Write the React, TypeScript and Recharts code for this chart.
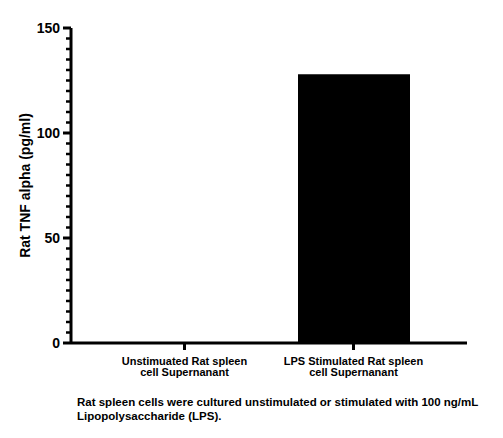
import React from "react";
import { BarChart, Bar, XAxis, YAxis, Label } from "recharts";

const categoryLines: string[][] = [
  ["Unstimuated Rat spleen", "cell Supernanant"],
  ["LPS Stimulated Rat spleen", "cell Supernanant"],
];
const categories = ["Unstimulated", "LPS"];
const values = [0, 128];
const yTicks = [0, 5, 10, 15, 20, 25, 30, 35, 40, 45, 50, 55, 60, 65, 70, 75, 80, 85, 90, 95, 100, 105, 110, 115, 120, 125, 130, 135, 140, 145, 150];
const majorTicks = [0, 50, 100, 150];
const yLabel = "Rat TNF alpha  (pg/ml)";
const footnote = [
  "Rat spleen cells were cultured unstimulated or stimulated with 100 ng/mL",
  "Lipopolysaccharide (LPS).",
];

const data = categories.map((c, i) => ({ name: c, idx: i, value: values[i] }));

const FONT = "'Liberation Sans', Arial, sans-serif";

const YTick = (props: any) => {
  const { x, y, payload } = props;
  const major = majorTicks.includes(payload.value);
  return (
    <g>
      <line
        x1={x - (major ? 8 : 5)}
        x2={x}
        y1={y}
        y2={y}
        stroke="#000"
        strokeWidth={major ? 3 : 2.5}
      />
      {major && (
        <text
          x={x - 11}
          y={y}
          dy={5}
          textAnchor="end"
          fontFamily={FONT}
          fontWeight="bold"
          fontSize={14}
          fill="#000"
        >
          {payload.value}
        </text>
      )}
    </g>
  );
};

const XTick = (props: any) => {
  const { x, y, index } = props;
  const lines = categoryLines[index] || [];
  return (
    <g>
      <line x1={x} x2={x} y1={y} y2={y + 7} stroke="#000" strokeWidth={3} />
      <text
        x={x}
        y={y}
        textAnchor="middle"
        fontFamily={FONT}
        fontWeight="bold"
        fontSize={11}
        fill="#000"
      >
        {lines.map((l, i) => (
          <tspan key={i} x={x} dy={i === 0 ? 22 : 11}>
            {l}
          </tspan>
        ))}
      </text>
    </g>
  );
};

const YLabelContent = (props: any) => {
  const { viewBox } = props;
  const cx = 25;
  const cy = viewBox.y + viewBox.height / 2;
  return (
    <text
      x={cx}
      y={cy}
      transform={`rotate(-90, ${cx}, ${cy})`}
      textAnchor="middle"
      dominantBaseline="central"
      fontFamily={FONT}
      fontWeight="bold"
      fontSize={14}
      fill="#000"
    >
      {yLabel}
    </text>
  );
};

export default function App() {
  return (
    <div style={{ position: "absolute", left: 0, top: 0, width: 503, height: 438, background: "#fff" }}>
      <BarChart
        width={503}
        height={438}
        data={data}
        margin={{ top: 28, right: 36, bottom: 65, left: 0 }}
      >
        <XAxis
          dataKey="name"
          height={30}
          tick={<XTick />}
          tickLine={false}
          tickSize={0}
          tickMargin={0}
          axisLine={{ stroke: "#000", strokeWidth: 3 }}
          padding={{ left: 29, right: 29 }}
          interval={0}
        />
        <YAxis
          width={71}
          domain={[0, 150]}
          ticks={yTicks}
          interval={0}
          tick={<YTick />}
          tickLine={false}
          tickSize={0}
          tickMargin={0}
          axisLine={{ stroke: "#000", strokeWidth: 3 }}
        >
          <Label content={<YLabelContent />} />
        </YAxis>
        <Bar dataKey="value" fill="#000" barSize={112} isAnimationActive={false} />
      </BarChart>
      <div
        style={{
          position: "absolute",
          left: 77,
          top: 395,
          fontFamily: FONT,
          fontSize: 11.5,
          fontWeight: "bold",
          lineHeight: "14px",
          color: "#000",
          whiteSpace: "nowrap",
        }}
      >
        {footnote.map((l, i) => (
          <div key={i}>{l}</div>
        ))}
      </div>
    </div>
  );
}
